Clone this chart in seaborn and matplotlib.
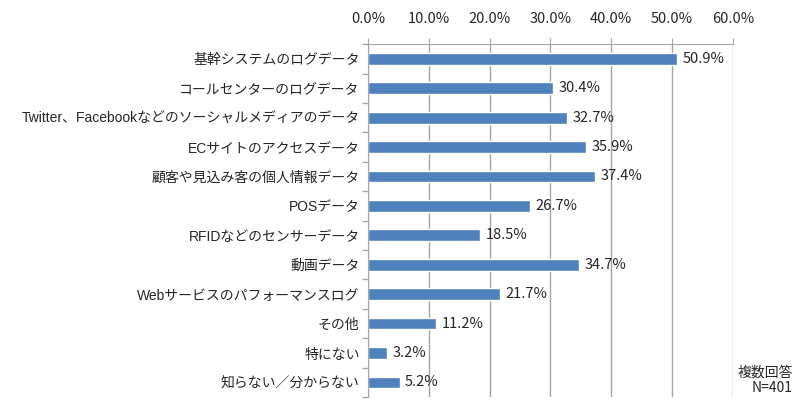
import pandas as pd
import seaborn as sns
import matplotlib.pyplot as plt
from matplotlib.ticker import MultipleLocator, FuncFormatter

categories = [
    "基幹システムのログデータ",
    "コールセンターのログデータ",
    "Twitter、Facebookなどのソーシャルメディアのデータ",
    "ECサイトのアクセスデータ",
    "顧客や見込み客の個人情報データ",
    "POSデータ",
    "RFIDなどのセンサーデータ",
    "動画データ",
    "Webサービスのパフォーマンスログ",
    "その他",
    "特にない",
    "知らない／分からない",
]
values = [50.9, 30.4, 32.7, 35.9, 37.4, 26.7, 18.5, 34.7, 21.7, 11.2, 3.2, 5.2]

sns.set_style("white")
plt.rcParams['font.family'] = ['Noto Sans CJK JP', 'DejaVu Sans']

df = pd.DataFrame({"項目": categories, "割合": values})

fig = plt.figure(figsize=(8, 4.12), dpi=100)
ax = fig.add_axes([0.46, 0.036, 0.456, 0.857])

sns.barplot(data=df, y="項目", x="割合", orient="h", color="#4F81BD",
            saturation=1, width=0.4, ax=ax)

grid_c = "#A6A6A6"
ax.set_xlim(0, 60)
ax.set_ylim(len(categories) - 0.5, -0.5)
ax.xaxis.set_major_locator(MultipleLocator(10))
ax.xaxis.set_major_formatter(FuncFormatter(lambda v, p: f"{v:.1f}%"))
ax.xaxis.tick_top()
ax.grid(axis="x", color=grid_c, linewidth=1)
ax.set_axisbelow(True)

ax.spines["bottom"].set_visible(False)
ax.spines["right"].set_visible(False)
ax.spines["top"].set_color(grid_c)
ax.spines["left"].set_color(grid_c)

# category boundary ticks on the y axis
ax.set_yticks([i - 0.5 for i in range(len(categories) + 1)], minor=True)
ax.tick_params(axis="y", which="minor", length=4, color=grid_c, width=1, left=True)
ax.tick_params(axis="y", which="major", length=0, labelsize=10, pad=6)
ax.tick_params(axis="x", which="major", length=4, color=grid_c, top=True,
               labelsize=10.5, pad=9)
# narrower latin glyphs so the long label fits like the original
for lab in ax.get_yticklabels():
    lab.set_fontfamily(['Liberation Sans', 'Noto Sans CJK JP'])

ax.set_xlabel("")
ax.set_ylabel("")

for i, v in enumerate(values):
    ax.text(v + 0.9, i, f"{v:.1f}%", va="center", ha="left", fontsize=10.5)

fig.text(0.991, 0.042, "複数回答\nN=401", ha="right", va="bottom",
         fontsize=10, linespacing=1.1)

fig.savefig("out.png", dpi=100)
